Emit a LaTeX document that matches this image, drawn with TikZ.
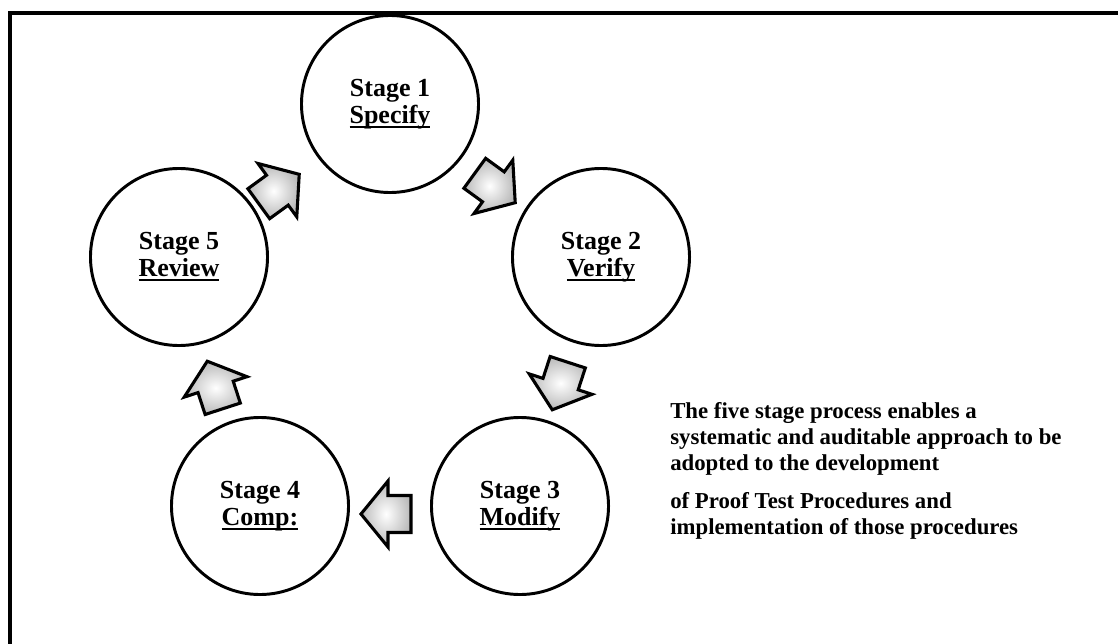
\documentclass[tikz,border=0pt]{standalone}
\usepackage{fontspec}
\setmainfont{Liberation Serif}

% underline that runs through the descenders, as in the original
\newcommand\stageul[1]{\setbox0\hbox{#1}\rlap{\rule[-3.2pt]{\wd0}{1.4pt}}\box0}

\tikzset{
  stage/.style={circle,draw,line width=2.1pt,minimum size=4.425cm,inner sep=0pt,
    align=center,font=\fontsize{18.5pt}{19.2pt}\selectfont\bfseries},
  flowarrow/.style={draw=black,line width=2.2pt,line join=miter,
    inner color=white,outer color=gray!55},
  note/.style={align=left,inner sep=0pt,font=\fontsize{16.2pt}{18.5pt}\selectfont\bfseries},
}

% block arrow: centre, direction
\newcommand\stagearrow[2]{%
  \shade[flowarrow,shift={(#1)},rotate=#2]
    (-25,-18.5) -- (-2,-18.5) -- (-2,-33) -- (25,0) -- (-2,33) -- (-2,18.5) -- (-25,18.5) -- cycle;}

\begin{document}
\begin{tikzpicture}[x=0.025cm,y=-0.025cm]
\useasboundingbox (0,0) rectangle (1118,644);
\draw[line width=3.5pt] (10,644) |- (1118,13);

\node[stage] (s1) at (390,104) {Stage 1\\\stageul{Specify}};
\node[stage] (s2) at (601,257) {Stage 2\\\stageul{Verify}};
\node[stage] (s3) at (520,506) {Stage 3\\\stageul{Modify}};
\node[stage] (s4) at (260,506) {Stage 4\\\stageul{Comp:}};
\node[stage] (s5) at (179,257) {Stage 5\\\stageul{Review}};

\coordinate (a12) at (495,188);
\coordinate (a23) at (560,386);
\coordinate (a34) at (386,514);
\coordinate (a45) at (215,385);
\coordinate (a51) at (279,189);
\stagearrow{a12}{-36}
\stagearrow{a23}{-108}
\stagearrow{a34}{180}
\stagearrow{a45}{108}
\stagearrow{a51}{36}

\node[note,anchor=north west] (txt) at (670,402)
  {The five stage process enables a\\
   systematic and auditable approach to be\\
   adopted to the development\\[8.5pt]
   of Proof Test Procedures and\\
   implementation of those procedures};
\end{tikzpicture}
\end{document}
